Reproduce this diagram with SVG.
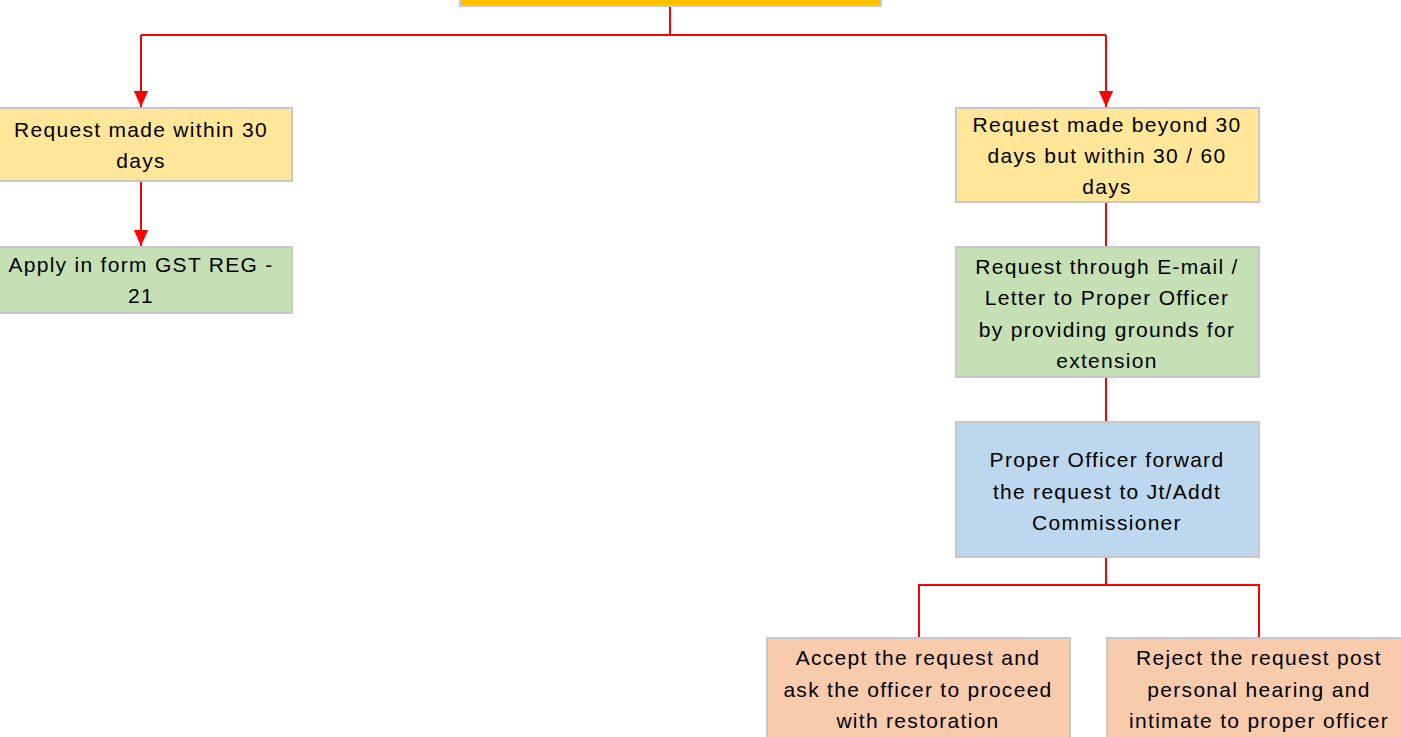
<svg xmlns="http://www.w3.org/2000/svg" width="1401" height="737" viewBox="0 0 1401 737">
<style>
.box{stroke:#C8C8C8;stroke-width:2}
.y{fill:#FFE699}.g{fill:#C5E0B4}.b{fill:#BDD7EE}.o{fill:#F8CBAD}.top{fill:#FFC000}
.t{font-family:"Liberation Sans",Arial,sans-serif;font-size:21px;letter-spacing:1.3px;fill:#000;text-anchor:middle}
.c{fill:none;stroke:#FF0000;stroke-width:2}
</style>
<defs>
<marker id="ah" markerWidth="8" markerHeight="9" refX="9" refY="4" orient="auto" markerUnits="strokeWidth" viewBox="0 0 9 8">
<path d="M0,0 L9,4 L0,8 Z" fill="#FF0000"/>
</marker>
</defs>
<g id="connectors">
<path class="c" d="M670,6 V35"/>
<path class="c" d="M141,35 H1106"/>
<path class="c" d="M141,35 V107" marker-end="url(#ah)"/>
<path class="c" d="M1106,35 V107" marker-end="url(#ah)"/>
<path class="c" d="M141,181 V246" marker-end="url(#ah)"/>
<path class="c" d="M1106,202 V247"/>
<path class="c" d="M1106,377 V422"/>
<path class="c" d="M1106,557 V585"/>
<path class="c" d="M919,585 H1259"/>
<path class="c" d="M919,584 V638"/>
<path class="c" d="M1259,584 V638"/>
</g>
<g id="n0"><rect class="box top" x="460" y="-40" width="421" height="46"/></g>
<g id="n1"><rect class="box y" x="-10" y="108" width="302" height="73"/>
<text class="t" x="141" y="137">Request made within 30</text>
<text class="t" x="141" y="168">days</text></g>
<g id="n2"><rect class="box g" x="-10" y="247" width="302" height="66"/>
<text class="t" x="141" y="272">Apply in form GST REG -</text>
<text class="t" x="141" y="303">21</text></g>
<g id="n3"><rect class="box y" x="956" y="108" width="303" height="94"/>
<text class="t" x="1107" y="132">Request made beyond 30</text>
<text class="t" x="1107" y="163">days but within 30 / 60</text>
<text class="t" x="1107" y="194">days</text></g>
<g id="n4"><rect class="box g" x="956" y="247" width="303" height="130"/>
<text class="t" x="1107" y="274">Request through E-mail /</text>
<text class="t" x="1107" y="305">Letter to Proper Officer</text>
<text class="t" x="1107" y="337">by providing grounds for</text>
<text class="t" x="1107" y="368">extension</text></g>
<g id="n5"><rect class="box b" x="956" y="422" width="303" height="135"/>
<text class="t" x="1107" y="467">Proper Officer forward</text>
<text class="t" x="1107" y="499">the request to Jt/Addt</text>
<text class="t" x="1107" y="530">Commissioner</text></g>
<g id="n6"><rect class="box o" x="767" y="638" width="303" height="110"/>
<text class="t" x="918" y="665">Accept the request and</text>
<text class="t" x="918" y="697">ask the officer to proceed</text>
<text class="t" x="918" y="728">with restoration</text></g>
<g id="n7"><rect class="box o" x="1107" y="638" width="310" height="110"/>
<text class="t" x="1259" y="665">Reject the request post</text>
<text class="t" x="1259" y="697">personal hearing and</text>
<text class="t" x="1259" y="728">intimate to proper officer</text></g>
</svg>
